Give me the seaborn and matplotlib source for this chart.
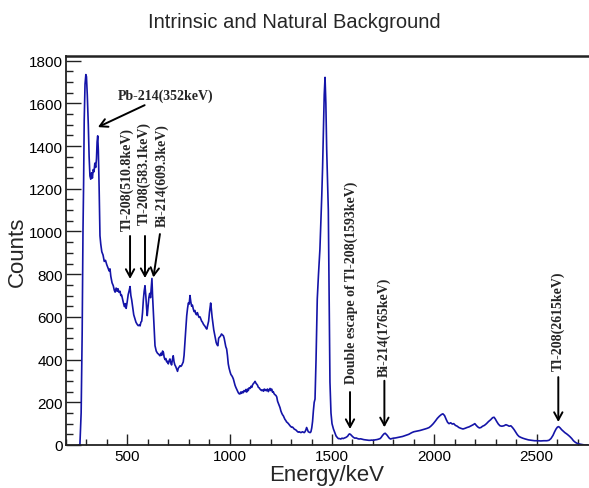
import numpy as np
import pandas as pd
import matplotlib
matplotlib.use("Agg")
import matplotlib.pyplot as plt
from matplotlib.ticker import MultipleLocator
import seaborn as sns

# spectrum (energy in keV, counts per bin)
energy = [262, 268, 274, 279, 283, 286, 289, 293, 297, 300, 304, 309, 313, 317, 321, 325,
          329, 333, 337, 341, 345, 349, 352, 355, 358, 362, 366, 370, 375, 381, 387, 393,
          399, 405, 411, 415, 419, 425, 431, 436, 440, 445, 450, 454, 459, 464, 468, 472,
          477, 482, 486, 490, 494, 499, 504, 508, 513, 517, 521, 526, 531, 537, 542, 548,
          553, 558, 562, 566, 570, 574, 578, 582, 586, 590, 594, 597, 601, 605, 609, 613,
          617, 620, 623, 627, 631, 635, 641, 647, 653, 659, 664, 668, 672, 676, 680, 684,
          688, 692, 696, 700, 704, 708, 712, 716, 720, 724, 728, 732, 736, 741, 745, 749,
          753, 757, 761, 765, 769, 773, 777, 781, 786, 790, 794, 798, 802, 806, 810, 814,
          818, 822, 826, 830, 834, 838, 842, 846, 850, 855, 859, 863, 867, 872, 876, 880,
          884, 888, 892, 897, 901, 905, 907, 910, 914, 918, 922, 926, 930, 934, 938, 942,
          946, 950, 955, 960, 965, 969, 973, 977, 981, 985, 989, 993, 997, 1002, 1006, 1010,
          1014, 1018, 1022, 1026, 1030, 1034, 1038, 1042, 1046, 1050, 1054, 1058, 1062, 1066, 1070, 1075,
          1079, 1083, 1087, 1091, 1095, 1100, 1104, 1108, 1112, 1116, 1120, 1124, 1128, 1132, 1136, 1140,
          1144, 1148, 1152, 1156, 1160, 1165, 1169, 1173, 1177, 1181, 1185, 1189, 1193, 1197, 1201, 1205,
          1209, 1213, 1217, 1222, 1226, 1230, 1234, 1238, 1242, 1246, 1250, 1254, 1258, 1262, 1266, 1270,
          1274, 1278, 1282, 1287, 1291, 1295, 1299, 1303, 1307, 1311, 1315, 1320, 1324, 1328, 1332, 1336,
          1340, 1344, 1348, 1352, 1356, 1360, 1364, 1368, 1372, 1376, 1380, 1384, 1388, 1393, 1397, 1401,
          1405, 1409, 1413, 1417, 1422, 1428, 1434, 1441, 1446, 1450, 1454, 1458, 1462, 1466, 1470, 1474,
          1478, 1482, 1486, 1490, 1495, 1500, 1507, 1515, 1520, 1526, 1531, 1537, 1543, 1549, 1555, 1561,
          1567, 1572, 1577, 1581, 1585, 1590, 1595, 1600, 1606, 1612, 1618, 1625, 1632, 1640, 1648, 1656,
          1664, 1672, 1680, 1686, 1694, 1702, 1710, 1718, 1726, 1735, 1740, 1745, 1750, 1755, 1760, 1765,
          1770, 1775, 1780, 1786, 1792, 1800, 1810, 1820, 1833, 1845, 1860, 1875, 1890, 1900, 1915, 1930,
          1945, 1955, 1965, 1975, 1985, 1995, 2005, 2015, 2025, 2035, 2042, 2050, 2058, 2065, 2072, 2080,
          2088, 2095, 2103, 2112, 2120, 2130, 2140, 2150, 2160, 2170, 2180, 2190, 2198, 2205, 2212, 2220,
          2228, 2236, 2245, 2255, 2265, 2275, 2285, 2292, 2298, 2305, 2313, 2321, 2330, 2340, 2350, 2358,
          2366, 2374, 2382, 2390, 2398, 2406, 2414, 2422, 2432, 2445, 2460, 2475, 2490, 2505, 2520, 2535,
          2550, 2560, 2570, 2580, 2588, 2595, 2602, 2608, 2615, 2622, 2630, 2638, 2647, 2656, 2664, 2672,
          2680, 2690, 2700, 2712, 2724, 2735, 2750]
counts = [0, 2, 150, 520, 1000, 1220, 1520, 1690, 1735, 1725, 1640, 1500, 1350, 1260, 1245, 1275,
          1250, 1290, 1280, 1320, 1300, 1340, 1420, 1448, 1380, 1200, 980, 940, 905, 890, 860, 865,
          845, 830, 815, 825, 790, 760, 746, 725, 716, 735, 720, 732, 715, 720, 700, 702,
          680, 660, 648, 662, 640, 670, 705, 720, 742, 700, 680, 646, 610, 590, 575, 565,
          559, 562, 558, 575, 580, 620, 680, 720, 746, 700, 640, 606, 650, 690, 710, 690,
          740, 780, 700, 623, 540, 465, 440, 430, 425, 418, 430, 420, 440, 434, 410, 400,
          405, 389, 392, 380, 395, 403, 385, 375, 400, 418, 390, 375, 368, 356, 345, 360,
          365, 371, 368, 372, 380, 389, 420, 480, 550, 606, 640, 665, 660, 700, 670, 650,
          655, 637, 625, 630, 615, 610, 620, 608, 598, 600, 590, 580, 575, 565, 560, 555,
          548, 543, 560, 580, 620, 650, 665, 640, 600, 570, 540, 520, 500, 480, 470, 465,
          500, 505, 510, 520, 515, 512, 500, 480, 460, 450, 420, 380, 360, 342, 330, 325,
          318, 309, 295, 280, 270, 262, 255, 245, 240, 239, 248, 242, 250, 245, 255, 250,
          260, 248, 262, 255, 268, 265, 275, 270, 282, 288, 292, 298, 290, 285, 280, 270,
          268, 262, 258, 255, 258, 252, 262, 255, 260, 254, 262, 250, 258, 265, 255, 262,
          248, 250, 240, 235, 232, 225, 205, 195, 185, 175, 160, 150, 142, 137, 128, 120,
          115, 108, 105, 100, 95, 90, 86, 83, 84, 80, 75, 72, 70, 66, 62, 60,
          62, 60, 58, 60, 62, 60, 58, 62, 70, 82, 72, 62, 60, 58, 62, 80,
          110, 160, 200, 215, 400, 684, 800, 918, 1050, 1168, 1300, 1466, 1640, 1722, 1600, 1386,
          1250, 1100, 700, 295, 150, 100, 75, 55, 42, 35, 30, 30, 28, 32, 30, 33,
          35, 38, 42, 48, 52, 50, 45, 40, 35, 32, 33, 30, 28, 29, 27, 25,
          24, 23, 22, 22, 23, 22, 24, 25, 27, 30, 35, 42, 48, 53, 55, 50,
          45, 38, 32, 28, 30, 32, 33, 35, 38, 40, 45, 50, 58, 62, 65, 68,
          72, 75, 78, 82, 90, 100, 112, 125, 135, 143, 146, 138, 120, 106, 100, 104,
          98, 100, 92, 88, 82, 78, 75, 78, 82, 85, 90, 95, 100, 92, 85, 80,
          82, 88, 92, 100, 110, 118, 128, 130, 122, 110, 98, 90, 88, 90, 95, 92,
          88, 90, 82, 72, 60, 48, 40, 36, 32, 28, 24, 22, 20, 20, 19, 20,
          20, 22, 30, 45, 62, 75, 84, 86, 80, 72, 65, 58, 52, 45, 38, 30,
          20, 12, 7, 4, 2, 0, 0]

# peak labels: text, text position, arrow tail, arrow head
peak_labels = ["Tl-208(510.8keV)", "Tl-208(583.1keV)", "Bi-214(609.3keV)",
               "Double escape of Tl-208(1593keV)", "Bi-214(1765keV)", "Tl-208(2615keV)"]
label_xy = [(497, 1246), (581, 1276), (668, 1265), (1593, 766), (1756, 555), (2606, 586)]
arrow_tail = [(513, 979), (586, 979), (659, 988), (1588, 248), (1756, 301), (2606, 318)]
arrow_head = [(513, 778), (586, 782), (627, 785), (1588, 75), (1756, 83), (2606, 108)]

df = pd.DataFrame({"energy": energy, "counts": counts})

sns.set_style("ticks")
plt.rcParams["font.family"] = ["Liberation Sans", "DejaVu Sans"]

fig = plt.figure(figsize=(5.89, 4.89), dpi=100)
ax = fig.add_axes([66 / 589, 1 - 446 / 489, 532 / 589, 389 / 489])

sns.lineplot(data=df, x="energy", y="counts", ax=ax, color="#1414a8",
             linewidth=1.2, estimator=None, sort=False)

ax.set_xlim(200, 2800)
ax.set_ylim(0, 1822)
ax.xaxis.set_major_locator(MultipleLocator(500))
ax.xaxis.set_minor_locator(MultipleLocator(100))
ax.yaxis.set_major_locator(MultipleLocator(200))
ax.yaxis.set_minor_locator(MultipleLocator(50))
ax.tick_params(axis="both", which="both", direction="in", colors="#222222",
               labelcolor="black", labelsize=11)
ax.tick_params(axis="x", which="major", length=8, width=1, pad=3)
ax.tick_params(axis="x", which="minor", length=4.5, width=1)
ax.tick_params(axis="y", which="major", length=10.5, width=1, pad=2)
ax.tick_params(axis="y", which="minor", length=5, width=1)

for side in ["top", "left", "bottom"]:
    ax.spines[side].set_visible(True)
    ax.spines[side].set_color("#222222")
ax.spines["top"].set_linewidth(1.8)
ax.spines["left"].set_linewidth(1.3)
ax.spines["bottom"].set_linewidth(1.3)
ax.spines["right"].set_visible(False)

ax.set_xlabel("Energy/keV", fontsize=16)
ax.set_ylabel("Counts", fontsize=16)
ax.xaxis.set_label_coords(0.49, (446 - 476) / 389, transform=ax.transAxes)
ax.xaxis.label.set_va("center")
ax.yaxis.set_label_coords((17 - 66) / 532, 0.5, transform=ax.transAxes)
ax.yaxis.label.set_va("center")

fig.text(0.5, 1 - 22 / 489, "Intrinsic and Natural Background", ha="center",
         va="center", fontsize=14.5)

serif = dict(family=["Liberation Serif", "DejaVu Serif"], weight="bold", size=10)
arrow_style = dict(arrowstyle="->,head_length=0.55,head_width=0.3", color="black",
                   lw=1.4, shrinkA=0, shrinkB=0)

ax.annotate("Pb-214(352keV)", xy=(356, 1489), xytext=(455, 1607), ha="left",
            va="bottom", arrowprops=arrow_style, **serif)

for text, pos, tail, head in zip(peak_labels, label_xy, arrow_tail, arrow_head):
    ax.text(pos[0], pos[1], text, rotation=90, ha="center", va="center", **serif)
    ax.annotate("", xy=head, xytext=tail, arrowprops=arrow_style)

fig.savefig("out.png", dpi=100)
